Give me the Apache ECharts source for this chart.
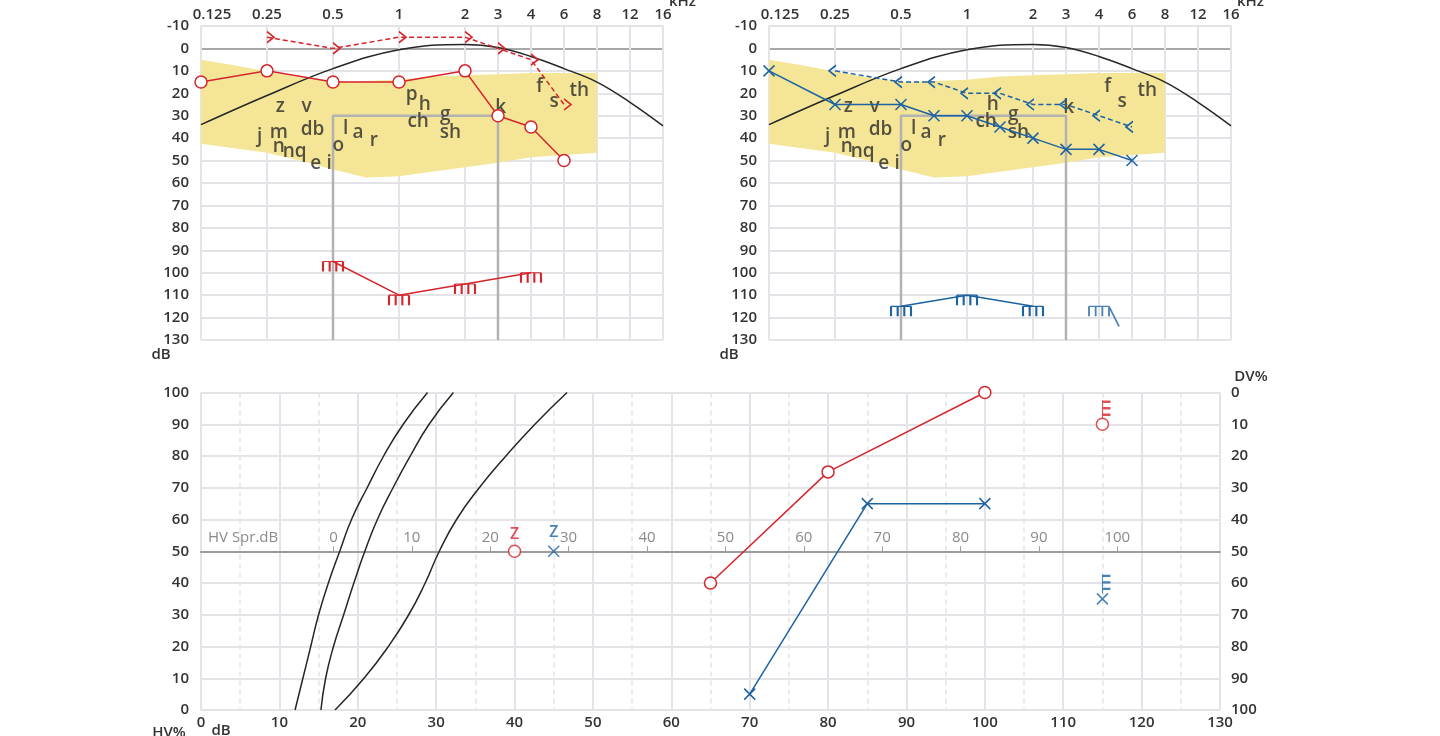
<!DOCTYPE html>
<html>
<head>
<meta charset="utf-8">
<script src="https://cdn.jsdelivr.net/npm/echarts@6.0.0/dist/echarts.min.js"></script>
<style>
html,body{margin:0;padding:0;background:#fff;}
#chart{width:1440px;height:736px;}
</style>
</head>
<body>
<div id="chart"></div>
<script>
// ================= DATA =================
// Audiogram frequency axis (kHz): tick positions in octave steps from 0.125 kHz
const freqTickPos    = [0, 1, 2, 3, 4, 4.5, 5, 5.5, 6, 6.5, 7];
const freqTickLabels = ['0.125', '0.25', '0.5', '1', '2', '3', '4', '6', '8', '12', '16'];

// Right ear (red)
const rAirFreq  = [0.125, 0.25, 0.5, 1, 2, 3, 4, 6];
const rAirDb    = [15, 10, 15, 15, 10, 30, 35, 50];
const rBoneFreq = [0.25, 0.5, 1, 2, 3, 4, 6];
const rBoneDb   = [-5, 0, -5, -5, 0, 5, 25];
const rUclFreq  = [0.5, 1, 2, 4];
const rUclDb    = [95, 110, 105, 100];

// Left ear (blue)
const lAirFreq  = [0.125, 0.25, 0.5, 0.75, 1, 1.5, 2, 3, 4, 6];
const lAirDb    = [10, 25, 25, 30, 30, 35, 40, 45, 45, 50];
const lBoneFreq = [0.25, 0.5, 0.75, 1, 1.5, 2, 3, 4, 6];
const lBoneDb   = [10, 15, 15, 20, 20, 25, 25, 30, 35];
const lUclFreq  = [0.5, 1, 2];
const lUclDb    = [115, 110, 115];
const lUclNoRespFreq = [4];
const lUclNoRespDb   = [115];

// Speech banana (positions on the octave axis)
const bananaPos    = [0, 0.5, 1, 1.5, 2, 2.5, 3, 3.5, 4, 4.5, 5, 5.5, 6];
const bananaTop    = [5, 7.5, 10.3, 13, 15, 14.5, 14, 12.5, 12, 11.5, 11, 11, 11];
const bananaBottom = [42.5, 44.5, 46.5, 50, 54, 57.5, 57, 55, 53, 51, 48.5, 47.5, 46.5];

// Reference (threshold) curve
const refCurveFreq = [0.125, 0.25, 0.5, 1, 2, 3, 4, 6, 8, 12, 16];
const refCurveDb   = [34, 21, 9, 0.6, -1.8, -0.4, 3.6, 9, 15, 24, 34.5];

// 0.5 – 3 kHz bracket
const bracketFreq = [0.5, 0.5, 3, 3];
const bracketDb   = [130, 30, 30, 130];

// Phoneme letters (octave-axis position, dB)
const phonemes  = ['z','v','j','m','n','nq','e','i','db','o','l','a','r','p','h','ch','g','sh','k','f','s','th'];
const phonemeX  = [1.2, 1.6, 0.89, 1.18, 1.18, 1.42, 1.74, 1.94, 1.69, 2.08, 2.19, 2.38, 2.62, 3.19, 3.39, 3.29, 3.70, 3.78, 4.54, 5.13, 5.35, 5.73];
const phonemeDb = [26, 26, 39.4, 37.5, 43.9, 46.1, 51.2, 51.3, 36.4, 43.1, 35.6, 37.5, 41, 20.5, 25.2, 32.7, 29.7, 37.4, 26.4, 17, 23.9, 19];
const phonemesHiddenRight = ['p'];

// Speech audiogram
const normPct = [0, 10, 20, 30, 40, 50, 60, 70, 80, 90, 100];
const norm1Db = [12.0, 13.0, 14.0, 15.0, 16.25, 17.7, 19.2, 21.2, 23.3, 25.8, 28.9];
const norm2Db = [15.3, 15.9, 16.9, 18.2, 19.5, 20.9, 22.5, 24.5, 26.7, 29.1, 32.2];
const norm3Db = [17.1, 20.8, 23.9, 26.5, 28.6, 30.4, 32.6, 35.5, 38.9, 42.6, 46.7];
const rSpeechDb  = [65, 80, 100];
const rSpeechPct = [40, 75, 100];
const lSpeechDb  = [70, 85, 100];
const lSpeechPct = [5, 65, 65];
const rZ = [40, 50];
const lZ = [45, 50];
const rDvDb = [115], rDvPct = [10];   // DV%
const lDvDb = [115], lDvPct = [65];   // DV%
const hvSprOffset = 16.9;
const hvSprTicks = [0, 10, 20, 30, 40, 50, 60, 70, 80, 90, 100];

// ================= STYLE =================
const F = "'Open Sans', 'Noto Sans', sans-serif";
const RED = '#d4262c', BLUE = '#1d62a1', GRID = '#e4e4e8', AXIS0 = '#a8a8a8';
const BLACK = '#262626', TXT = '#333333', YEL = '#f5e596', BRACKET = '#b2b2b2';

const SYM_X    = 'path://M0,0L10,10M10,0L0,10';
const SYM_GT   = 'path://M0,0L7,5.5L0,11';
const SYM_LT   = 'path://M7,0L0,5.5L7,11';
const SYM_COMB = 'path://M0,0L20,0M0,0L0,10M6.667,0L6.667,10M13.333,0L13.333,10M20,0L20,10';
const SYM_COMB_TAIL = 'path://M0,0L20,0M0,0L0,10M6.667,0L6.667,10M13.333,0L13.333,10M20,0L20,10M20,0L30,20';
const SYM_E    = 'path://M0,0L0,19M0,1.5L8,1.5M0,8L8,8M0,14.5L8,14.5';

function fpos(f) {
  const l = Math.log2(f / 0.125);
  const fl = Math.floor(l + 1e-9);
  return (l - fl < 1e-6) ? fl : fl + 0.5;
}
function pairs(xs, ys) { return xs.map((x, i) => [x, ys[i]]); }
function fpairs(fs, ds) { return fs.map((f, i) => [fpos(f), ds[i]]); }

const labelBase = { color: TXT, fontSize: 15, fontWeight: 600, fontFamily: F };

function topXAxis(gi) {
  const colors = [];
  for (let v = 0; v <= 7 + 1e-9; v += 0.5) {
    colors.push(freqTickPos.some(t => Math.abs(t - v) < 1e-6) ? GRID : 'rgba(0,0,0,0)');
  }
  return {
    gridIndex: gi, type: 'value', position: 'top', min: 0, max: 7, interval: 0.5,
    axisLine: { show: false, onZero: false }, axisTick: { show: false },
    axisLabel: Object.assign({}, labelBase, {
      margin: 4,
      formatter: v => {
        const i = freqTickPos.findIndex(t => Math.abs(t - v) < 1e-6);
        if (i < 0) return '';
        return i === 0 ? '{f|' + freqTickLabels[i] + '}' : freqTickLabels[i];
      },
      rich: { f: Object.assign({}, labelBase, { padding: [0, 0, 0, 22] }) }
    }),
    splitLine: { show: true, lineStyle: { color: colors, width: 2 } }
  };
}
function topYAxis(gi) {
  const colors = [];
  for (let v = -10; v <= 130; v += 10) colors.push(v === 0 ? AXIS0 : GRID);
  return {
    gridIndex: gi, type: 'value', inverse: true, min: -10, max: 130, interval: 10,
    axisLine: { show: false, onZero: false }, axisTick: { show: false },
    axisLabel: Object.assign({}, labelBase, { margin: 12 }),
    splitLine: { show: true, lineStyle: { color: colors, width: 2 } }
  };
}

function topSeries(gi, ear) {
  const isRight = ear === 'right';
  const col = isRight ? RED : BLUE;
  const s = [];
  // banana
  s.push({
    type: 'custom', xAxisIndex: gi, yAxisIndex: gi, silent: true, z: 1,
    data: [[0, 0]],
    renderItem: (params, api) => {
      const top = bananaPos.map((p, i) => api.coord([p, bananaTop[i]]));
      const bot = bananaPos.map((p, i) => api.coord([p, bananaBottom[i]])).reverse();
      return { type: 'polygon', shape: { points: top.concat(bot) }, style: { fill: YEL } };
    }
  });
  // bracket
  s.push({
    type: 'line', xAxisIndex: gi, yAxisIndex: gi, silent: true, z: 2, symbol: 'none',
    data: fpairs(bracketFreq, bracketDb),
    lineStyle: { color: BRACKET, width: 2.5 }
  });
  // reference curve
  s.push({
    type: 'line', xAxisIndex: gi, yAxisIndex: gi, silent: true, z: 3, symbol: 'none', smooth: 0.4,
    data: fpairs(refCurveFreq, refCurveDb),
    lineStyle: { color: BLACK, width: 1.5 }
  });
  // phonemes
  const ph = [];
  phonemes.forEach((t, i) => {
    if (!isRight && phonemesHiddenRight.includes(t)) return;
    ph.push({ value: [phonemeX[i], phonemeDb[i]], name: t });
  });
  s.push({
    type: 'scatter', xAxisIndex: gi, yAxisIndex: gi, silent: true, z: 3,
    symbol: 'circle', symbolSize: 1, itemStyle: { color: 'rgba(0,0,0,0)' },
    data: ph,
    label: { show: true, position: 'inside', formatter: p => p.name, color: '#2a2a2a', fontSize: 19, fontWeight: 600, fontFamily: F }
  });
  // bone conduction
  s.push({
    type: 'line', xAxisIndex: gi, yAxisIndex: gi, silent: true, z: 4,
    data: isRight ? fpairs(rBoneFreq, rBoneDb) : fpairs(lBoneFreq, lBoneDb),
    symbol: isRight ? SYM_GT : SYM_LT, symbolSize: [7, 11], symbolOffset: [isRight ? 3.5 : -2.5, 0],
    lineStyle: { color: col, width: 1.5, type: [5, 3] },
    itemStyle: { color: 'none', borderColor: col, borderWidth: 1.5 }
  });
  // air conduction
  s.push({
    type: 'line', xAxisIndex: gi, yAxisIndex: gi, silent: true, z: 5,
    data: isRight ? fpairs(rAirFreq, rAirDb) : fpairs(lAirFreq, lAirDb),
    symbol: isRight ? 'circle' : SYM_X, symbolSize: isRight ? 12 : 11,
    lineStyle: { color: col, width: 1.5 },
    itemStyle: isRight ? { color: '#fff', borderColor: col, borderWidth: 1.5 }
                       : { color: 'none', borderColor: col, borderWidth: 1.5 }
  });
  // UCL
  s.push({
    type: 'line', xAxisIndex: gi, yAxisIndex: gi, silent: true, z: 5,
    data: isRight ? fpairs(rUclFreq, rUclDb) : fpairs(lUclFreq, lUclDb),
    symbol: SYM_COMB, symbolSize: [20, 10], symbolOffset: [0, 5],
    lineStyle: { color: col, width: 1.5 },
    itemStyle: { color: 'none', borderColor: col, borderWidth: 1.5 }
  });
  if (!isRight) {
    s.push({
      type: 'scatter', xAxisIndex: gi, yAxisIndex: gi, silent: true, z: 5,
      data: fpairs(lUclNoRespFreq, lUclNoRespDb),
      symbol: SYM_COMB_TAIL, symbolSize: [30, 20], symbolOffset: [5, 10],
      itemStyle: { color: 'none', borderColor: col, borderWidth: 1.5 }
    });
  }
  return s;
}

const bottomSeries = [];
[norm1Db, norm2Db, norm3Db].forEach(arr => {
  bottomSeries.push({
    type: 'line', xAxisIndex: 2, yAxisIndex: 2, silent: true, z: 3, symbol: 'none',
    smooth: 0.5,
    data: pairs(arr, normPct), lineStyle: { color: BLACK, width: 1.5 }
  });
});
bottomSeries.push({
  type: 'line', xAxisIndex: 2, yAxisIndex: 2, silent: true, z: 5,
  data: pairs(rSpeechDb, rSpeechPct), symbol: 'circle', symbolSize: 12,
  lineStyle: { color: RED, width: 1.5 },
  itemStyle: { color: '#fff', borderColor: RED, borderWidth: 1.5 }
});
bottomSeries.push({
  type: 'line', xAxisIndex: 2, yAxisIndex: 2, silent: true, z: 5,
  data: pairs(lSpeechDb, lSpeechPct), symbol: SYM_X, symbolSize: 11,
  lineStyle: { color: BLUE, width: 1.5 },
  itemStyle: { color: 'none', borderColor: BLUE, borderWidth: 1.5 }
});
bottomSeries.push({
  type: 'scatter', xAxisIndex: 2, yAxisIndex: 2, silent: true, z: 5,
  data: [rZ], symbol: 'circle', symbolSize: 12,
  itemStyle: { color: '#fff', borderColor: RED, borderWidth: 1.5 },
  label: { show: true, position: 'top', distance: 2, formatter: 'Z', color: RED, fontSize: 16, fontWeight: 600, fontFamily: F }
});
bottomSeries.push({
  type: 'scatter', xAxisIndex: 2, yAxisIndex: 2, silent: true, z: 5,
  data: [lZ], symbol: SYM_X, symbolSize: 11,
  itemStyle: { color: 'none', borderColor: BLUE, borderWidth: 1.5 },
  label: { show: true, position: 'top', distance: 3, formatter: 'Z', color: BLUE, fontSize: 16, fontWeight: 600, fontFamily: F }
});
bottomSeries.push({
  type: 'scatter', xAxisIndex: 2, yAxisIndex: 3, silent: true, z: 5,
  data: pairs(rDvDb, rDvPct), symbol: 'circle', symbolSize: 12,
  itemStyle: { color: '#fff', borderColor: RED, borderWidth: 1.5 }
});
bottomSeries.push({
  type: 'scatter', xAxisIndex: 2, yAxisIndex: 3, silent: true, z: 5,
  data: pairs(rDvDb, rDvPct), symbol: SYM_E, symbolSize: [8, 19], symbolOffset: [4, -14.5],
  itemStyle: { color: 'none', borderColor: RED, borderWidth: 1.5 }
});
bottomSeries.push({
  type: 'scatter', xAxisIndex: 2, yAxisIndex: 3, silent: true, z: 5,
  data: pairs(lDvDb, lDvPct), symbol: SYM_X, symbolSize: 11,
  itemStyle: { color: 'none', borderColor: BLUE, borderWidth: 1.5 }
});
bottomSeries.push({
  type: 'scatter', xAxisIndex: 2, yAxisIndex: 3, silent: true, z: 5,
  data: pairs(lDvDb, lDvPct), symbol: SYM_E, symbolSize: [8, 19], symbolOffset: [4, -15],
  itemStyle: { color: 'none', borderColor: BLUE, borderWidth: 1.5 }
});

const bottomGridHeight = 317.5;

const option = {
  animation: false,
  backgroundColor: '#ffffff',
  textStyle: { fontFamily: F },
  grid: [
    { left: 201, top: 26, width: 462, height: 314, containLabel: false, outerBoundsMode: 'none' },
    { left: 769, top: 26, width: 462, height: 314, containLabel: false, outerBoundsMode: 'none' },
    { left: 201, top: 392.5, width: 1019, height: bottomGridHeight, containLabel: false, outerBoundsMode: 'none' }
  ],
  xAxis: [
    topXAxis(0),
    topXAxis(1),
    {
      gridIndex: 2, type: 'value', position: 'bottom', min: 0, max: 130, interval: 10,
      axisLine: { show: false, onZero: false }, axisTick: { show: false },
      axisLabel: Object.assign({}, labelBase, { margin: 5 }),
      splitLine: { show: true, lineStyle: { color: GRID, width: 2 } },
      minorTick: { show: false, splitNumber: 2 },
      minorSplitLine: { show: true, lineStyle: { color: GRID, width: 1.5, type: [5, 4] } }
    },
    {
      gridIndex: 2, type: 'value', position: 'bottom', min: -hvSprOffset, max: 130 - hvSprOffset,
      offset: -bottomGridHeight * 0.5,
      axisLine: { show: true, onZero: false, lineStyle: { color: '#9c9c9c', width: 2 } },
      axisTick: { show: true, inside: true, length: 5, customValues: hvSprTicks, lineStyle: { color: '#9c9c9c', width: 1 } },
      axisLabel: { show: true, inside: true, margin: 6, customValues: hvSprTicks, color: '#8a8a8a', fontSize: 15, fontFamily: F },
      splitLine: { show: false }
    }
  ],
  yAxis: [
    topYAxis(0),
    topYAxis(1),
    {
      gridIndex: 2, type: 'value', position: 'left', min: 0, max: 100, interval: 10,
      axisLine: { show: false, onZero: false }, axisTick: { show: false },
      axisLabel: Object.assign({}, labelBase, { margin: 12 }),
      splitLine: { show: true, lineStyle: { color: GRID, width: 2 } }
    },
    {
      gridIndex: 2, type: 'value', position: 'right', inverse: true, min: 0, max: 100, interval: 10,
      axisLine: { show: false, onZero: false }, axisTick: { show: false },
      axisLabel: Object.assign({}, labelBase, { margin: 11 }),
      splitLine: { show: false }
    }
  ],
  graphic: [
    { type: 'text', x: 669, y: 2, style: { text: 'kHz', fill: TXT, font: "600 15px 'Open Sans'", textAlign: 'left', textVerticalAlign: 'middle' } },
    { type: 'text', x: 1237, y: 2, style: { text: 'kHz', fill: TXT, font: "600 15px 'Open Sans'", textAlign: 'left', textVerticalAlign: 'middle' } },
    { type: 'text', x: 161, y: 355, style: { text: 'dB', fill: TXT, font: "600 15px 'Open Sans'", textAlign: 'center', textVerticalAlign: 'middle' } },
    { type: 'text', x: 729, y: 355, style: { text: 'dB', fill: TXT, font: "600 15px 'Open Sans'", textAlign: 'center', textVerticalAlign: 'middle' } },
    { type: 'text', x: 1251, y: 377, style: { text: 'DV%', fill: TXT, font: "600 15px 'Open Sans'", textAlign: 'center', textVerticalAlign: 'middle' } },
    { type: 'text', x: 169, y: 733, style: { text: 'HV%', fill: TXT, font: "600 15px 'Open Sans'", textAlign: 'center', textVerticalAlign: 'middle' } },
    { type: 'text', x: 221, y: 731, style: { text: 'dB', fill: TXT, font: "600 15px 'Open Sans'", textAlign: 'center', textVerticalAlign: 'middle' } },
    { type: 'text', x: 208, y: 538, style: { text: 'HV Spr.dB', fill: '#8a8a8a', font: "15px 'Open Sans'", textAlign: 'left', textVerticalAlign: 'middle' } }
  ],
  series: [].concat(topSeries(0, 'right'), topSeries(1, 'left'), bottomSeries)
};

const chart = echarts.init(document.getElementById('chart'), null, { renderer: 'canvas', width: 1440, height: 736 });
chart.setOption(option);
</script>
</body>
</html>
